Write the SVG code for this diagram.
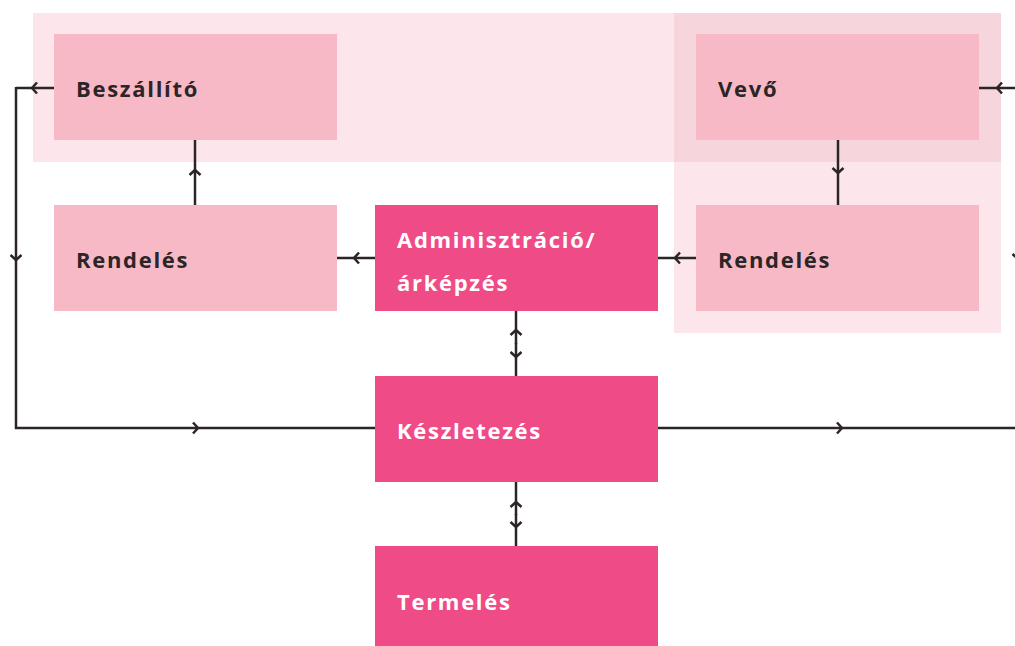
<svg xmlns="http://www.w3.org/2000/svg" width="1015" height="646" viewBox="0 0 1015 646">
<defs>
<style>
.band{fill:#fde6eb}
.overlap{fill:#f7d5dc}
.light{fill:#f7b9c6}
.dark{fill:#ef4b86}
.lbl{font-family:"Open Sans","Liberation Sans",sans-serif;font-weight:700;font-size:22px;letter-spacing:1.7px}
.lt{fill:#2b2527}
.dt{fill:#ffffff}
.con{fill:none;stroke:#2b2527;stroke-width:2.5;marker-mid:url(#chev)}
</style>
<marker id="chev" markerUnits="userSpaceOnUse" viewBox="-8 -8 16 16" markerWidth="16" markerHeight="16" refX="0" refY="0" orient="auto" overflow="visible">
<path d="M-5,-5.5 L0,0 L-5,5.5" fill="none" stroke="#2b2527" stroke-width="2.5"/>
</marker>
</defs>
<rect width="1015" height="646" fill="#ffffff"/>
<g id="bands">
<rect class="band" x="33" y="13" width="968" height="149"/>
<rect class="band" x="674" y="13" width="327" height="320"/>
<rect class="overlap" x="674" y="13" width="327" height="149"/>
</g>
<g id="connectors">
<path class="con" d="M54,88 L32,88 L16,88"/>
<path class="con" d="M16,87 L16,260 L16,429"/>
<path class="con" d="M15,428 L198,428 L375,428"/>
<path class="con" d="M1019,88 L997,88 L979,88"/>
<path class="con" d="M1018,87 L1018,259 L1018,429"/>
<path class="con" d="M658,428 L842,428 L1019,428"/>
<path class="con" d="M838,140 L838,173 L838,205"/>
<path class="con" d="M696,258 L675,258 L658,258"/>
<path class="con" d="M375,258 L354,258 L337,258"/>
<path class="con" d="M195,205 L195,170 L195,140"/>
<path class="con" d="M516,344 L516,330 L516,311"/>
<path class="con" d="M516,343 L516,357 L516,376"/>
<path class="con" d="M516,515 L516,502 L516,482"/>
<path class="con" d="M516,514 L516,527 L516,546"/>
</g>
<g id="beszallito">
<rect class="light" x="54" y="34" width="283" height="106"/>
<text class="lbl lt" x="76" y="97">Beszállító</text>
</g>
<g id="vevo">
<rect class="light" x="696" y="34" width="283" height="106"/>
<text class="lbl lt" x="718" y="97">Vevő</text>
</g>
<g id="rendeles-left">
<rect class="light" x="54" y="205" width="283" height="106"/>
<text class="lbl lt" x="76" y="268">Rendelés</text>
</g>
<g id="adminisztracio">
<rect class="dark" x="375" y="205" width="283" height="106"/>
<text class="lbl dt" x="397" y="248">Adminisztráció/</text>
<text class="lbl dt" x="397" y="291">árképzés</text>
</g>
<g id="rendeles-right">
<rect class="light" x="696" y="205" width="283" height="106"/>
<text class="lbl lt" x="718" y="268">Rendelés</text>
</g>
<g id="keszletezes">
<rect class="dark" x="375" y="376" width="283" height="106"/>
<text class="lbl dt" x="397" y="439">Készletezés</text>
</g>
<g id="termeles">
<rect class="dark" x="375" y="546" width="283" height="106"/>
<text class="lbl dt" x="397" y="610">Termelés</text>
</g>
</svg>
